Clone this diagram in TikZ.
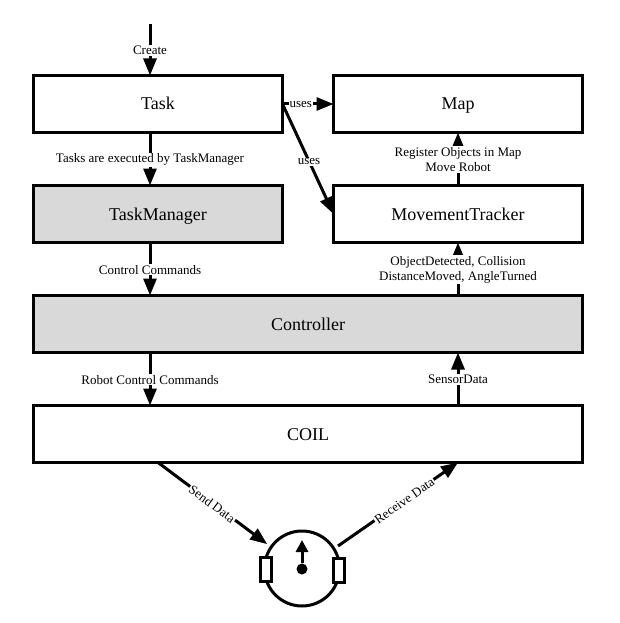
\documentclass[tikz,border=0pt]{standalone}
\usepackage{fontspec}
\setmainfont{Liberation Serif}
\usetikzlibrary{arrows.meta}
\usepackage{xcolor}
\definecolor{layergray}{RGB}{217,217,217}
\newcommand{\widthbox}{249pt}
\newcommand{\widthwide}{549pt}
\newcommand{\heightbox}{57pt}
\tikzset{
    common/.style={draw, rectangle, line width=3pt, outer sep=0pt, minimum height=\heightbox, text height=14pt, text depth=2pt, font=\fontsize{18}{20}\selectfont},
    module/.style={common, minimum width=\widthbox},
    wide/.style={common, minimum width=\widthwide},
    active/.style={fill=layergray},
    flow/.style={-{Triangle[length=17pt, width=13pt]}, line width=3pt},
    tag/.style={fill=white, inner sep=1pt, yshift=-0.7pt, align=center, font=\fontsize{13}{15.5}\selectfont},
    wheel/.style={draw, rectangle, fill=white, line width=3pt, outer sep=0pt, minimum width=11pt, minimum height=24pt},
}
\begin{document}
\begin{tikzpicture}[x=1pt, y=-1pt]
    \useasboundingbox (0,0) rectangle (620,623);

    % boxes of the layers
    \node[module] (task) at (158,104) {Task};
    \node[module] (map) at (458,104) {Map};
    \node[module, active] (task-manager) at (158,214) {TaskManager};
    \node[module] (movement-tracker) at (458,214) {MovementTracker};
    \node[wide, active] (controller) at (308,324) {Controller};
    \node[wide] (coil) at (308,434) {COIL};
    \coordinate (create-start) at (150,24);

    % left column
    \draw[flow] (create-start) -- node[tag] {Create} (task.north -| create-start);
    \draw[flow] (task.south -| create-start) -- node[tag] {Tasks are executed by TaskManager} (task-manager.north -| create-start);
    \draw[flow] (task-manager.south -| create-start) -- node[tag] {Control Commands} (controller.north -| create-start);
    \draw[flow] (controller.south -| create-start) -- node[tag] {Robot Control Commands} (coil.north -| create-start);

    % right column
    \draw[flow] (coil.north -| map) -- node[tag] {SensorData} (controller.south -| map);
    \draw[flow] (controller.north -| map) -- node[tag] {ObjectDetected, Collision\\DistanceMoved, AngleTurned} (movement-tracker.south);
    \draw[flow] (movement-tracker.north) -- node[tag] {Register Objects in Map\\Move Robot} (map.south);

    \draw[flow] (task.east) -- node[tag, pos=0.36] {uses} (map.west);
    \draw[flow] (task.east) -- node[tag, pos=0.52] {uses} (movement-tracker.west);

    % robot
    \node[draw, circle, line width=3pt, minimum size=75pt, outer sep=5pt] (robot) at (302,568.5) {};
    \node[wheel] (wheel-left) at (265.5,569) {};
    \node[wheel] (wheel-right) at (339,570) {};
    \node[circle, fill=black, inner sep=0pt, minimum size=11pt] (robot-dot) at (302,569) {};
    \coordinate (robot-heading) at (302,540);
    \draw[-{Triangle[length=12pt, width=12pt]}, line width=3pt] (robot-dot) -- (robot-heading);

    \draw[flow] (coil.south -| 158,0) -- node[tag, sloped] {Send Data} (robot.145);
    \draw[flow] (robot.32) -- node[tag, sloped, pos=0.55] {Receive Data} (coil.south -| map);
\end{tikzpicture}
\end{document}
